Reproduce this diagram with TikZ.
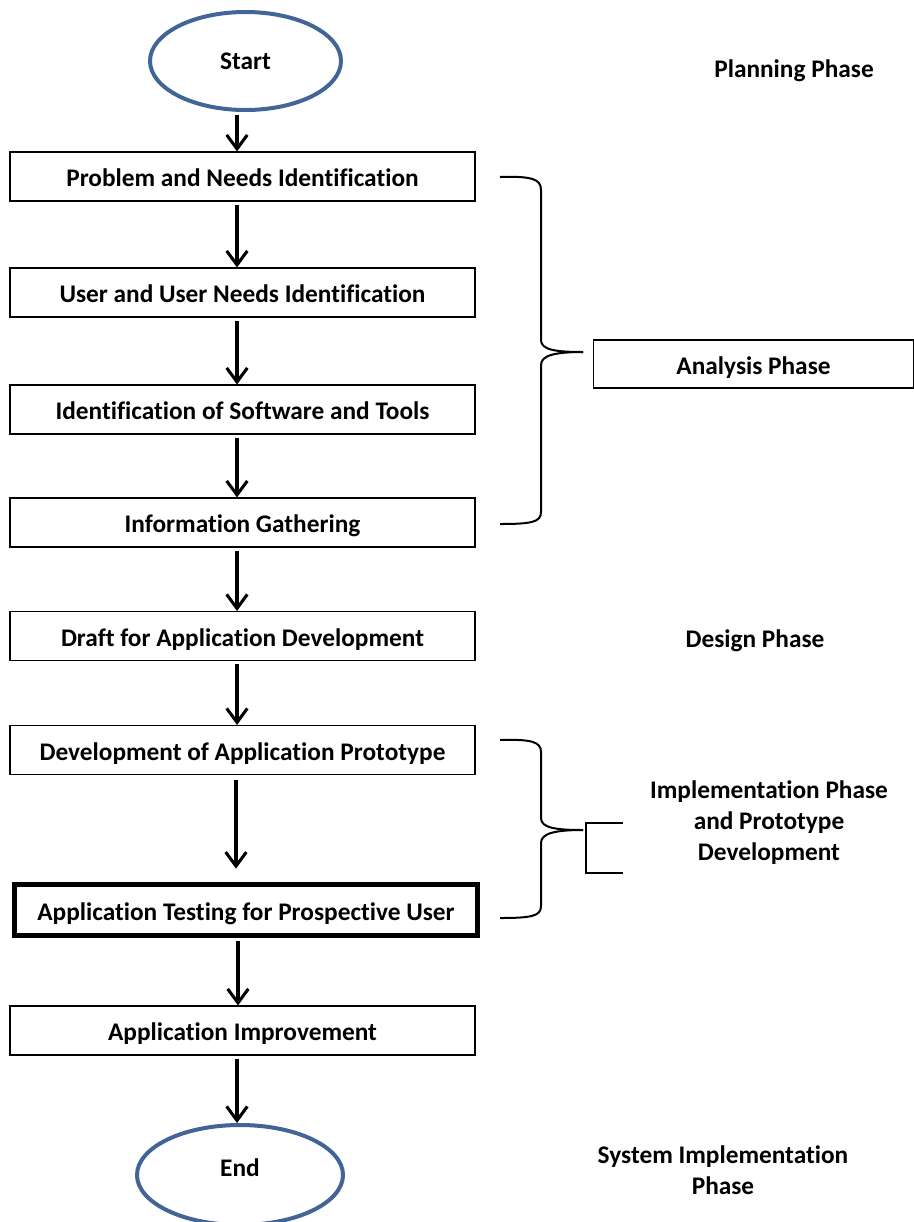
\documentclass[tikz,border=0pt]{standalone}
\usepackage{fontspec}
\setmainfont{Carlito}[Ligatures=NoCommon]
\usetikzlibrary{arrows.meta,shapes.geometric}
\definecolor{ovalblue}{RGB}{65,101,150}
\tikzset{
  stepbox/.style={draw=black,line width=0.8pt,minimum width=348.75pt,minimum height=36.75pt,inner sep=0pt,text depth=0pt,text height=15pt,font=\bfseries\fontsize{19pt}{22pt}\selectfont},
  oval/.style={ellipse,draw=ovalblue,line width=3pt,inner sep=0pt,font=\bfseries\fontsize{19pt}{22pt}\selectfont},
  arr/.style={line width=2.3pt,-{Straight Barb[length=10.5pt,width=15.5pt,line width=2.3pt]},shorten <=2.5pt},
  brace/.style={line width=1.5pt},
  lbl/.style={font=\bfseries\fontsize{19pt}{23.25pt}\selectfont,align=center,inner sep=0pt}
}
\begin{document}
\begin{tikzpicture}[x=0.75pt,y=-0.75pt]
\useasboundingbox (0,0) rectangle (914,1222);
% oval nodes
\node[oval,minimum width=143.25pt,minimum height=73.5pt] (start) at (245.5,61) {Start};
\node[oval,minimum width=154.5pt,minimum height=75pt] (end) at (240,1175) {\raisebox{-0.75pt}[0pt][0pt]{End}};
% boxes
\node[stepbox] (b1) at (242.5,176.5) {Problem and Needs Identification};
\node[stepbox] (b2) at (242.5,292.5) {User and User Needs Identification};
\node[stepbox] (b3) at (242.5,409.5) {Identification of Software and Tools};
\node[stepbox] (b4) at (242.5,522.5) {Information Gathering};
\node[stepbox] (b5) at (242.5,636) {Draft for Application Development};
\node[stepbox] (b6) at (242.5,750) {Development of Application Prototype};
\node[stepbox,line width=3.75pt,minimum width=347.25pt,minimum height=38.25pt] (b7) at (246,910) {Application Testing for Prospective User};
\node[stepbox] (b8) at (242.5,1030.5) {Application Improvement};
% arrow x positions
\coordinate (x1) at (237,0);
\coordinate (x2) at (236,0);
\coordinate (x3) at (238,0);
\draw[arr] (start.south -| x1) -- (b1.north -| x1);
\draw[arr] (b1.south -| x1) -- (b2.north -| x1);
\draw[arr] (b2.south -| x1) -- (b3.north -| x1);
\draw[arr] (b3.south -| x1) -- (b4.north -| x1);
\draw[arr] (b4.south -| x1) -- (b5.north -| x1);
\draw[arr] (b5.south -| x1) -- (b6.north -| x1);
\draw[arr,shorten >=10pt,shorten <=3.5pt] (b6.south -| x2) -- (b7.north -| x2);
\draw[arr] (b7.south -| x3) -- (b8.north -| x3);
\draw[arr] (b8.south -| x1) -- (end.north -| x1);
% phase labels
\node[lbl] (plan) at (794,71) {Planning Phase};
\node[lbl,draw=black,line width=0.8pt,minimum width=240pt,minimum height=36pt,text depth=0pt,text height=15pt] (anal) at (753.5,364) {Analysis Phase};
\node[lbl] (design) at (755,641) {Design Phase};
\node[lbl] (impl) at (769,823) {Implementation Phase\\and Prototype\\Development};
\node[lbl] (sys) at (723,1170) {System Implementation\\Phase};
% braces
\draw[brace] (500,177) .. controls (532,176) and (541,179) .. (541,190) -- (541,340)
  .. controls (541,350) and (556,352) .. (583,352);
\draw[brace] (583,352) .. controls (556,352) and (541,355) .. (541,365) -- (541,512)
  .. controls (541,522) and (532,524) .. (500,524);
\draw[brace] (500,740) .. controls (532,739) and (541,742) .. (541,752) -- (541,818)
  .. controls (541,828) and (556,830) .. (583,830);
\draw[brace] (583,830) .. controls (556,830) and (541,833) .. (541,843) -- (541,906)
  .. controls (541,916) and (532,918) .. (500,918);
\draw[line width=0.8pt] (623,823) -- (586,823) -- (586,873) -- (623,873);
\end{tikzpicture}
\end{document}
